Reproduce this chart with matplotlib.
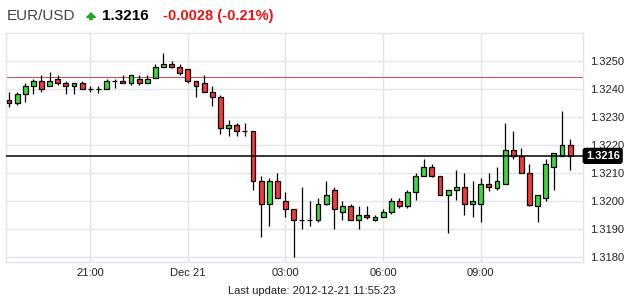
import matplotlib
matplotlib.use("Agg")
import matplotlib.pyplot as plt
from matplotlib.patches import Polygon
import numpy as np

plt.rcParams['font.family'] = ['Liberation Sans', 'DejaVu Sans']

# ---- data: 15-minute candles, hours after Dec 20 18:00 ----
start_hour = 0.5
step_hours = 0.25
opens = [1.32360, 1.32349, 1.32380, 1.32408, 1.32426, 1.32408, 1.32436, 1.32419, 1.32408, 1.32419,
         1.32398, 1.32398, 1.32398, 1.32426, 1.32426, 1.32419, 1.32436, 1.32419, 1.32438, 1.32476,
         1.32487, 1.32476, 1.32469, 1.32426, 1.32419, 1.32387, 1.32370, 1.32258, 1.32269, 1.32248,
         1.32248, 1.32069, 1.31987, 1.32069, 1.31998, 1.31969, 1.31930, 1.31930, 1.31930, 1.31987,
         1.32037, 1.31958, 1.31980, 1.31930, 1.31948, 1.31930, 1.31940, 1.31958, 1.31998, 1.31980,
         1.32031, 1.32087, 1.32119, 1.32087, 1.32019, 1.32038, 1.32048, 1.31987, 1.31987, 1.32058,
         1.32044, 1.32058, 1.32180, 1.32158, 1.32099, 1.31980, 1.32008, 1.32119, 1.32158, 1.32198]
highs = [1.32388, 1.32388, 1.32419, 1.32436, 1.32448, 1.32458, 1.32448, 1.32427, 1.32419, 1.32426,
         1.32408, 1.32408, 1.32436, 1.32436, 1.32448, 1.32448, 1.32448, 1.32448, 1.32487, 1.32527,
         1.32498, 1.32487, 1.32469, 1.32426, 1.32448, 1.32408, 1.32376, 1.32288, 1.32277, 1.32277,
         1.32248, 1.32087, 1.32080, 1.32099, 1.32031, 1.31969, 1.32048, 1.31999, 1.32010, 1.32069,
         1.32048, 1.31999, 1.31987, 1.31980, 1.31980, 1.31948, 1.31969, 1.32008, 1.32008, 1.32037,
         1.32099, 1.32148, 1.32132, 1.32087, 1.32038, 1.32108, 1.32099, 1.32069, 1.32080, 1.32099,
         1.32119, 1.32277, 1.32248, 1.32188, 1.32131, 1.32019, 1.32148, 1.32169, 1.32320, 1.32220]
lows = [1.32333, 1.32342, 1.32351, 1.32382, 1.32389, 1.32408, 1.32413, 1.32382, 1.32382, 1.32398,
        1.32387, 1.32383, 1.32398, 1.32401, 1.32419, 1.32412, 1.32412, 1.32419, 1.32438, 1.32476,
        1.32473, 1.32450, 1.32421, 1.32371, 1.32387, 1.32339, 1.32239, 1.32232, 1.32232, 1.32232,
        1.32039, 1.31871, 1.31910, 1.32008, 1.31943, 1.31800, 1.31900, 1.31910, 1.31923, 1.31983,
        1.31900, 1.31930, 1.31930, 1.31900, 1.31933, 1.31926, 1.31940, 1.31951, 1.31973, 1.31975,
        1.32001, 1.32087, 1.32083, 1.32019, 1.31883, 1.32001, 1.31950, 1.31943, 1.31923, 1.32035,
        1.32039, 1.32058, 1.32150, 1.32099, 1.31982, 1.31923, 1.31999, 1.32039, 1.32158, 1.32110]
closes = [1.32348, 1.32380, 1.32408, 1.32426, 1.32398, 1.32426, 1.32419, 1.32408, 1.32419, 1.32398,
          1.32398, 1.32398, 1.32426, 1.32426, 1.32419, 1.32448, 1.32419, 1.32436, 1.32476, 1.32487,
          1.32476, 1.32456, 1.32426, 1.32408, 1.32387, 1.32370, 1.32258, 1.32269, 1.32248, 1.32248,
          1.32069, 1.31987, 1.32069, 1.32008, 1.31969, 1.31930, 1.31930, 1.31930, 1.31987, 1.32019,
          1.31969, 1.31980, 1.31930, 1.31948, 1.31940, 1.31940, 1.31958, 1.31998, 1.31980, 1.32030,
          1.32087, 1.32119, 1.32087, 1.32019, 1.32038, 1.32048, 1.31987, 1.31998, 1.32058, 1.32048,
          1.32069, 1.32180, 1.32158, 1.32099, 1.31985, 1.32019, 1.32130, 1.32169, 1.32198, 1.32158]

last_price = 1.3216
prev_close = 1.3244
change_text = "-0.0028 (-0.21%)"
x_tick_hours = [3, 6, 9, 12, 15]
x_tick_labels = ["21:00", "Dec 21", "03:00", "06:00", "09:00"]
y_ticks = [1.3180, 1.3190, 1.3200, 1.3210, 1.3220, 1.3230, 1.3240, 1.3250]
update_text = "Last update: 2012-12-21 11:55:23"

# ---- figure ----
W, H = 627, 305
fig = plt.figure(figsize=(W / 100, H / 100), dpi=100)
ax = fig.add_axes([6.3 / W, 1 - 262 / H, (582.7 - 6.3) / W, (262 - 32.7) / H])

grid_c = '#e4e4ec'
ax.set_xlim(0.418, 18.136)
ax.set_ylim(1.31781, 1.32600)
ax.set_yticks(y_ticks)
ax.set_xticks(x_tick_hours)
ax.set_xticklabels(x_tick_labels)
ax.yaxis.tick_right()
ax.set_yticklabels([f"{v:.4f}" for v in y_ticks])
ax.tick_params(axis='both', length=0, labelsize=8, colors='#222222')
ax.tick_params(axis='x', pad=4.5)
ax.tick_params(axis='y', pad=5)
ax.grid(True, color=grid_c, linewidth=1.0)
ax.set_axisbelow(True)
for s in ax.spines.values():
    s.set_color(grid_c)
    s.set_linewidth(1.0)

xs = start_hour + step_hours * np.arange(len(opens))
o = np.array(opens); c = np.array(closes); h = np.array(highs); l = np.array(lows)
up = c >= o
green, red = '#3cd83c', '#f83838'
ax.vlines(xs, l, h, color='black', linewidth=0.9, zorder=3)
bw = 0.15
ax.bar(xs, np.abs(c - o), bottom=np.minimum(o, c), width=bw,
       color=np.where(up, green, red), edgecolor='black', linewidth=0.9, zorder=4)

ax.axhline(prev_close, color='#c85450', linewidth=0.75, zorder=2)
ax.axhline(last_price, color='black', linewidth=1.1, zorder=5)

# current price label
trans = ax.get_yaxis_transform()
ax.text(1.0 + 20 / (582.7 - 6.3), last_price, f"{last_price:.4f}", transform=trans,
        ha='center', va='center', color='white', fontsize=8, fontweight='bold', zorder=10,
        bbox=dict(boxstyle='round,pad=0.22,rounding_size=0.2', fc='black', ec='black'), clip_on=False)

# title row
fig.text(7 / W, 1 - 16 / H, "EUR/USD", color='#444444', fontsize=11, va='center', ha='left')
arrow = Polygon([[91 / W, 1 - 13 / H], [95.5 / W, 1 - 17.5 / H], [92.3 / W, 1 - 17.5 / H],
                 [92.3 / W, 1 - 19.5 / H], [89.7 / W, 1 - 19.5 / H], [89.7 / W, 1 - 17.5 / H],
                 [86.5 / W, 1 - 17.5 / H]], closed=True, transform=fig.transFigure,
                color='#22aa22')
fig.add_artist(arrow)
fig.text(102 / W, 1 - 16 / H, f"{last_price:.4f}", color='black', fontsize=11,
         fontweight='bold', va='center', ha='left')
fig.text(163 / W, 1 - 16 / H, change_text, color='#ee1111', fontsize=10.5,
         fontweight='bold', va='center', ha='left')

fig.text(312 / W, 1 - 291.5 / H, update_text, color='#222222', fontsize=8, va='center', ha='center')

fig.savefig("out.png", dpi=100, facecolor='white')
